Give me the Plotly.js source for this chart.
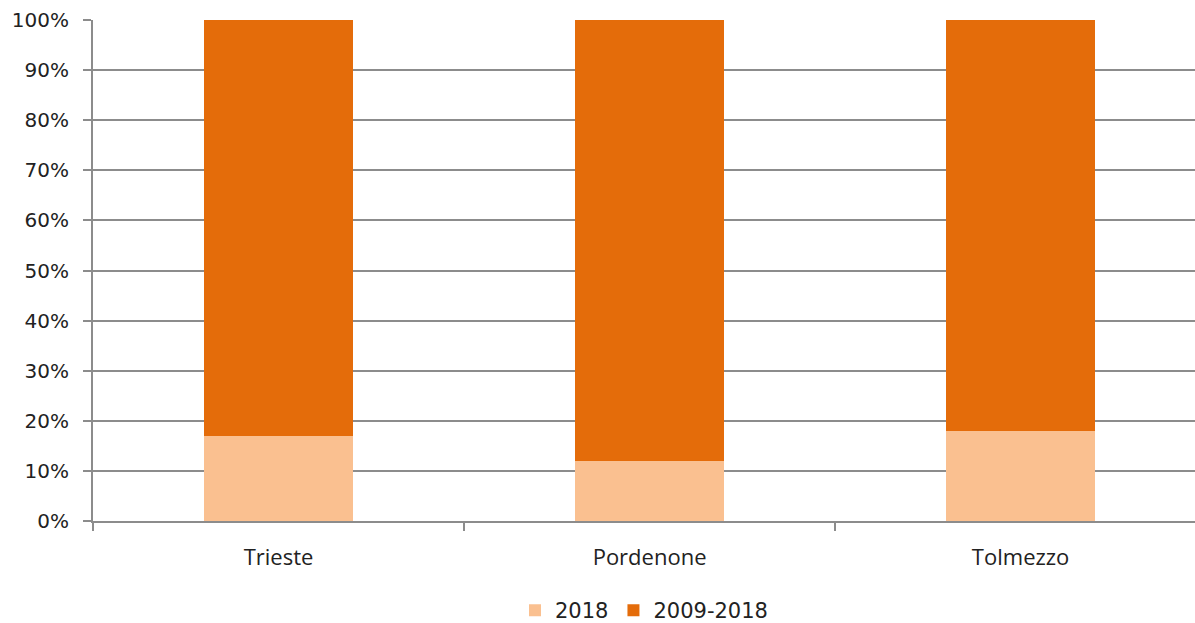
<!DOCTYPE html>
<html>
<head>
<meta charset="utf-8">
<script src="https://cdn.plot.ly/plotly-3.0.1.min.js"></script>
<style>html,body{margin:0;padding:0;background:#fff;}#chart{width:1195px;height:623px;}</style>
</head>
<body>
<div id="chart"></div>
<script>
const categories = ["Trieste", "Pordenone", "Tolmezzo"];
const series2018 = [17, 12, 18];
const series2009_2018 = [83, 88, 82];
const seriesNames = ["2018", "2009-2018"];
const yTickVals = [0, 10, 20, 30, 40, 50, 60, 70, 80, 90, 100];
const yTickText = ["0%", "10%", "20%", "30%", "40%", "50%", "60%", "70%", "80%", "90%", "100%"];

const traces = [
  {type: "bar", name: seriesNames[0], x: categories, y: series2018, marker: {color: "#FAC090"}, width: 0.4},
  {type: "bar", name: seriesNames[1], x: categories, y: series2009_2018, marker: {color: "#E46C0A"}, width: 0.4}
];

const layout = {
  width: 1195, height: 623,
  barmode: "stack",
  margin: {l: 93, r: 0, t: 20, b: 102, autoexpand: false},
  paper_bgcolor: "#fff", plot_bgcolor: "#fff",
  font: {family: "DejaVu Sans, sans-serif", color: "#222"},
  xaxis: {
    type: "category",
    range: [-0.5, 2.47],
    automargin: false,
    tickson: "boundaries",
    ticks: "outside", ticklen: 8, tickwidth: 2, tickcolor: "#8c8c8c",
    showline: true, linecolor: "#8c8c8c", linewidth: 2,
    showgrid: false,
    ticklabelstandoff: 16,
    tickfont: {family: "Open Sans, sans-serif", size: 22, color: "#222"}
  },
  yaxis: {
    range: [0, 100],
    automargin: false,
    tickvals: yTickVals, ticktext: yTickText,
    ticks: "outside", ticklen: 8, tickwidth: 2, tickcolor: "#8c8c8c",
    showline: true, linecolor: "#8c8c8c", linewidth: 2,
    showgrid: true, gridcolor: "#8c8c8c", gridwidth: 2,
    zeroline: false,
    ticklabelstandoff: 10,
    tickfont: {family: "DejaVu Sans, sans-serif", size: 20, color: "#222"}
  },
  legend: {
    orientation: "h", x: 0.5, xanchor: "center", xref: "paper",
    y: -0.138, yanchor: "top",
    font: {family: "DejaVu Sans, sans-serif", size: 21, color: "#222"},
    traceorder: "normal"
  },
  showlegend: true
};

Plotly.newPlot("chart", traces, layout, {displayModeBar: false, staticPlot: true});
</script>
</body>
</html>
